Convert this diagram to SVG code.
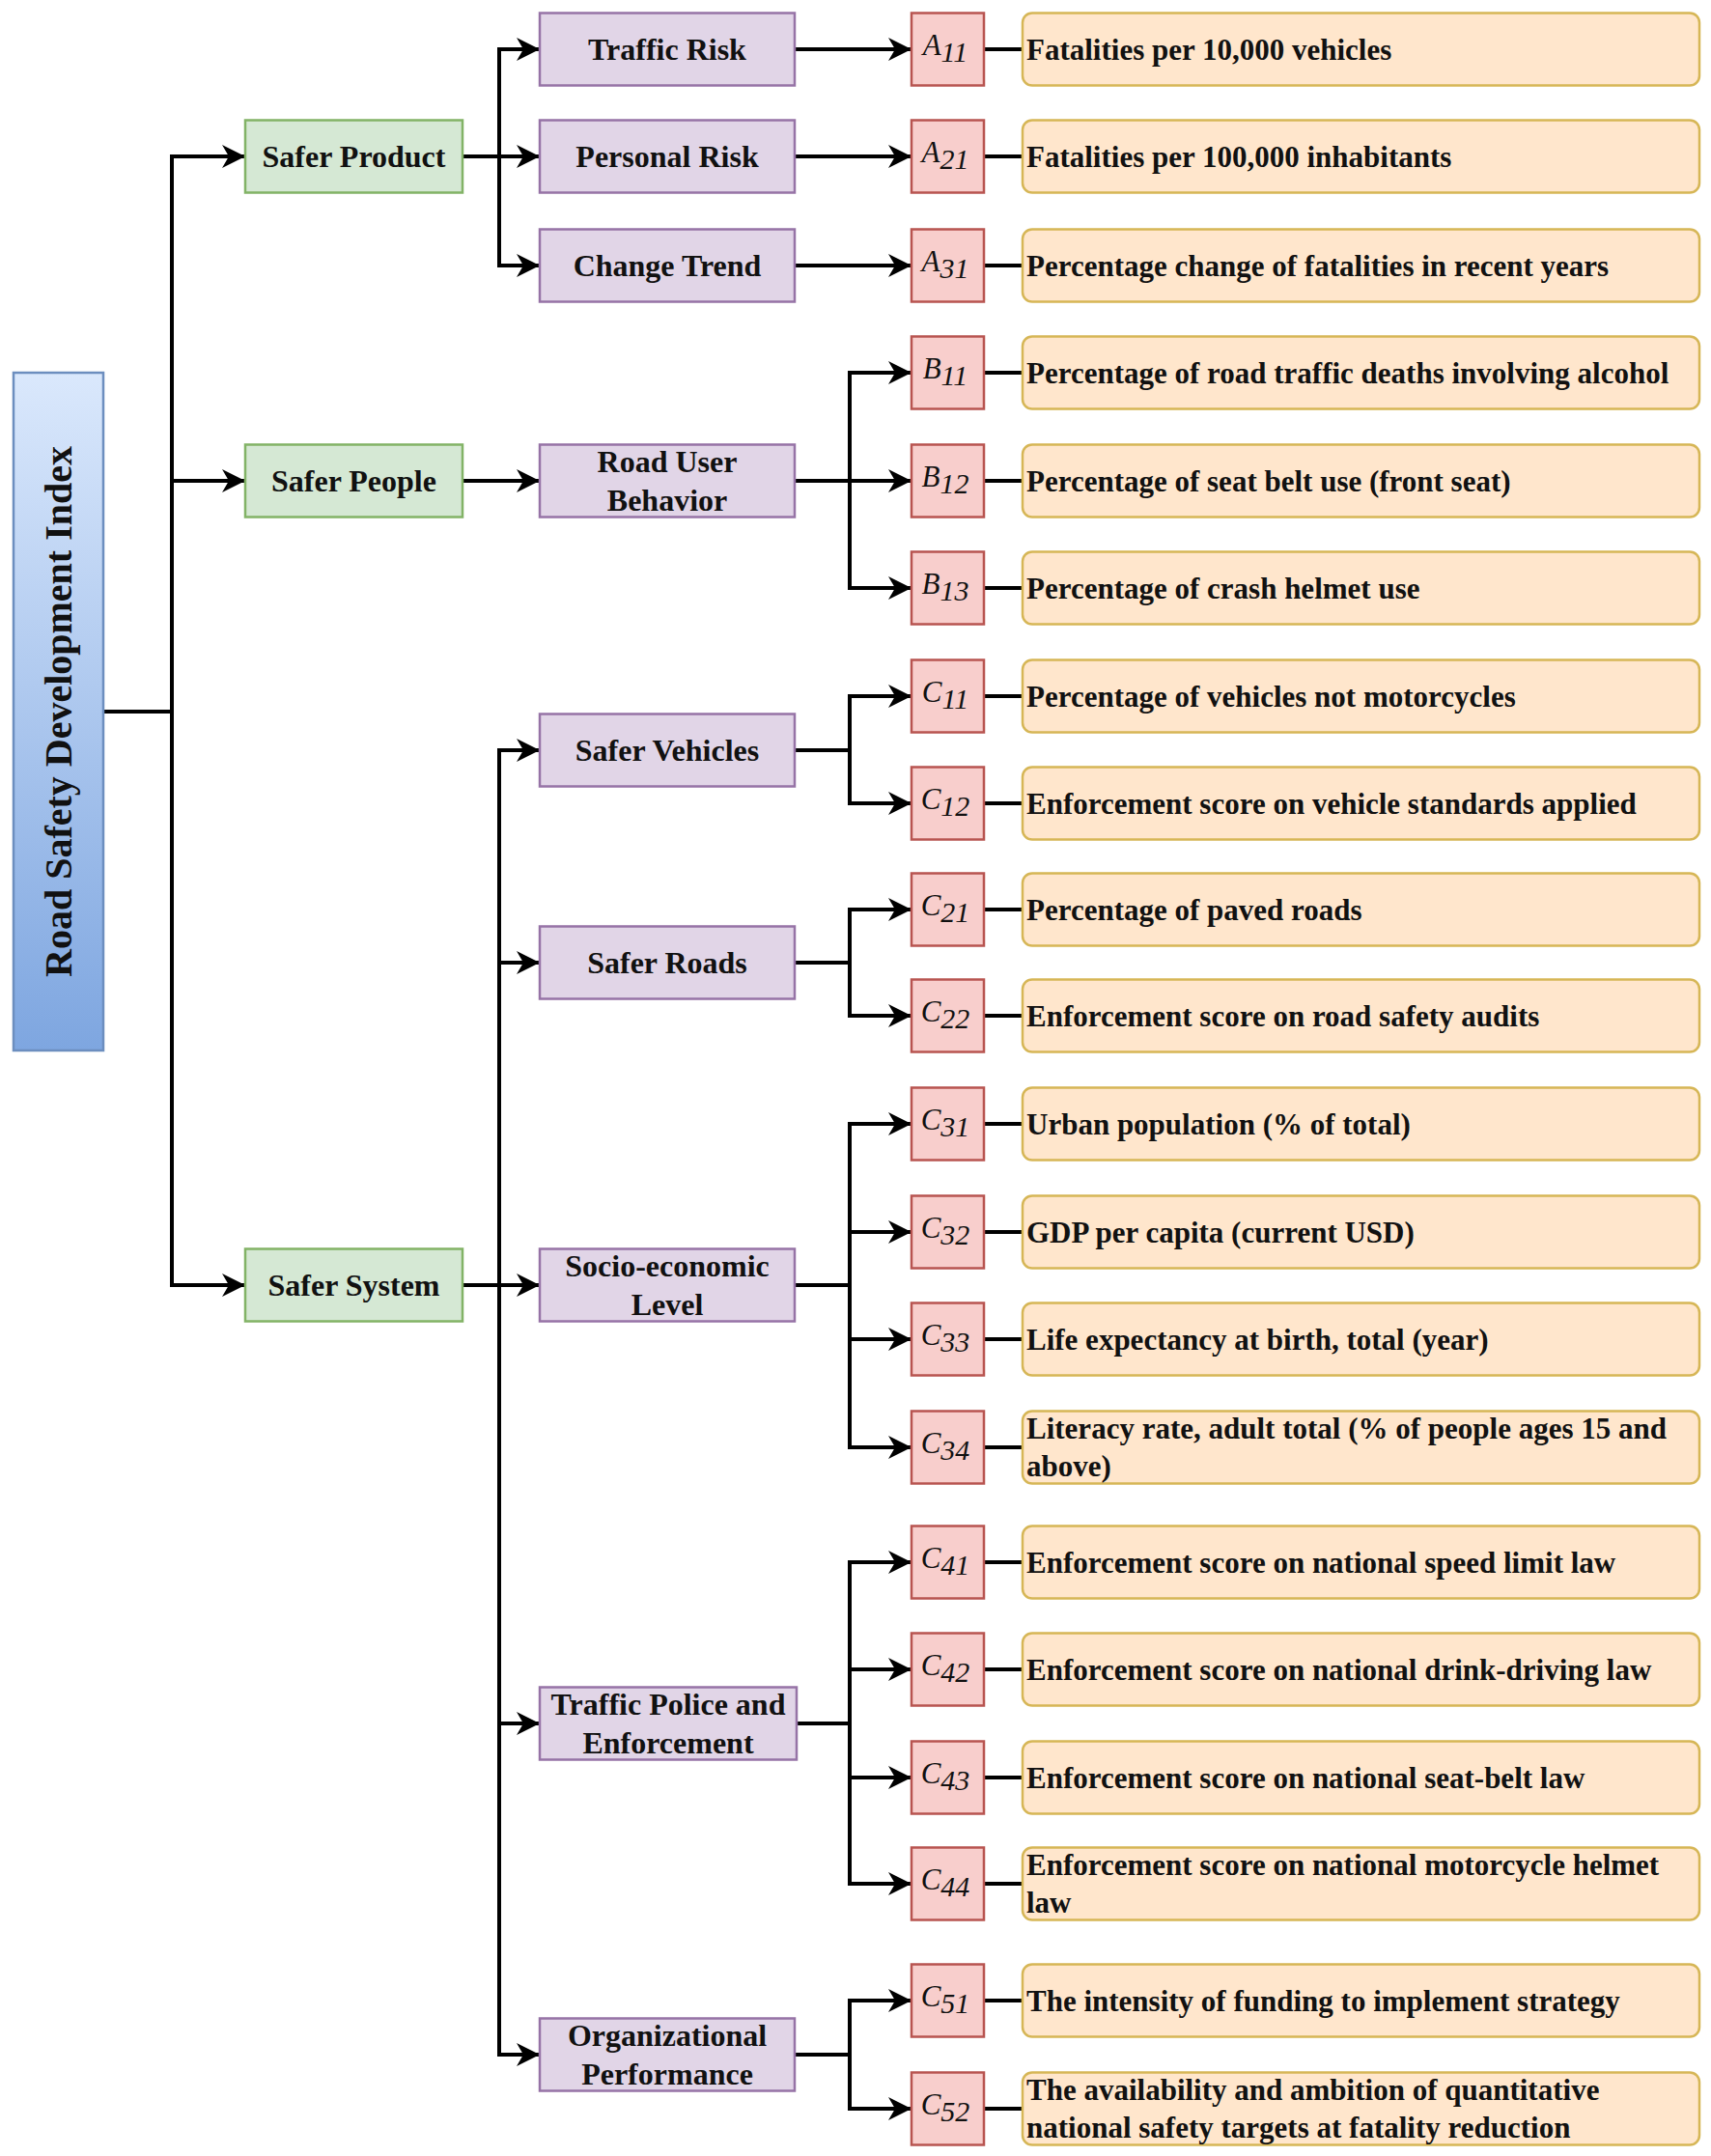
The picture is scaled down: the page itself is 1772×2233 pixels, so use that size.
<svg xmlns="http://www.w3.org/2000/svg" width="1772" height="2233" viewBox="0 0 1772 2233">
<defs>
<linearGradient id="rootGrad" x1="0" y1="0" x2="0" y2="1">
<stop offset="0" stop-color="#dae8fc"/>
<stop offset="1" stop-color="#7ea6e0"/>
</linearGradient>
<marker id="arr" markerUnits="userSpaceOnUse" markerWidth="24" markerHeight="24" refX="24" refY="12" orient="auto">
<path d="M0,0 L24,12 L0,24 L7,12 z" fill="#000"/>
</marker>
<style>
.root{fill:url(#rootGrad);stroke:#6c8ebf;stroke-width:2.5}
.l1{fill:#d5e8d4;stroke:#82b366;stroke-width:2.5}
.l2{fill:#e1d5e7;stroke:#9673a6;stroke-width:2.5}
.ind{fill:#f8cecc;stroke:#b85450;stroke-width:2.5}
.desc{fill:#ffe6cc;stroke:#d6b656;stroke-width:2.5}
.t{font-family:"Liberation Serif","Times New Roman",serif;font-weight:bold;fill:#111}
.tb{font-size:32px;text-anchor:middle}
.td{font-size:31px}
.tr{font-size:40px;text-anchor:middle}
.lbl{font-family:"Liberation Serif","Times New Roman",serif;font-style:italic;font-size:31px;fill:#111;text-anchor:middle}
.sub{font-size:30px}
.c{fill:none;stroke:#000;stroke-width:4}
.v{fill:none;stroke:#000;stroke-width:4;stroke-linecap:square}
.a{fill:none;stroke:#000;stroke-width:4;marker-end:url(#arr)}
</style>
</defs>
<rect width="1772" height="2233" fill="#fff"/>

<g id="connectors">
<path class="c" d="M107,737 H178"/>
<path class="v" d="M178,162 V1331"/>
<path class="a" d="M178,162 H254"/>
<path class="a" d="M178,498 H254"/>
<path class="a" d="M178,1331 H254"/>

<path class="c" d="M479,162 H517"/>
<path class="v" d="M517,51 V275"/>
<path class="a" d="M517,51 H559"/>
<path class="a" d="M517,162 H559"/>
<path class="a" d="M517,275 H559"/>

<path class="a" d="M479,498 H559"/>

<path class="c" d="M479,1331 H517"/>
<path class="v" d="M517,777 V2128"/>
<path class="a" d="M517,777 H559"/>
<path class="a" d="M517,997 H559"/>
<path class="a" d="M517,1331 H559"/>
<path class="a" d="M517,1785 H559"/>
<path class="a" d="M517,2128 H559"/>

<path class="a" d="M823,51 H944"/>
<path class="a" d="M823,162 H944"/>
<path class="a" d="M823,275 H944"/>

<path class="c" d="M823,498 H880"/>
<path class="v" d="M880,386 V609"/>
<path class="a" d="M880,386 H944"/>
<path class="a" d="M880,498 H944"/>
<path class="a" d="M880,609 H944"/>

<path class="c" d="M823,777 H880"/>
<path class="v" d="M880,721 V832"/>
<path class="a" d="M880,721 H944"/>
<path class="a" d="M880,832 H944"/>

<path class="c" d="M823,997 H880"/>
<path class="v" d="M880,942 V1052"/>
<path class="a" d="M880,942 H944"/>
<path class="a" d="M880,1052 H944"/>

<path class="c" d="M823,1331 H880"/>
<path class="v" d="M880,1164 V1499"/>
<path class="a" d="M880,1164 H944"/>
<path class="a" d="M880,1276 H944"/>
<path class="a" d="M880,1387 H944"/>
<path class="a" d="M880,1499 H944"/>

<path class="c" d="M825,1785 H880"/>
<path class="v" d="M880,1618 V1951"/>
<path class="a" d="M880,1618 H944"/>
<path class="a" d="M880,1729 H944"/>
<path class="a" d="M880,1841 H944"/>
<path class="a" d="M880,1951 H944"/>

<path class="c" d="M823,2128 H880"/>
<path class="v" d="M880,2072 V2184"/>
<path class="a" d="M880,2072 H944"/>
<path class="a" d="M880,2184 H944"/>

<path class="c" d="M1019,51 H1059 M1019,162 H1059 M1019,275 H1059 M1019,386 H1059 M1019,498 H1059 M1019,609 H1059 M1019,721 H1059 M1019,832 H1059 M1019,942 H1059 M1019,1052 H1059 M1019,1164 H1059 M1019,1276 H1059 M1019,1387 H1059 M1019,1499 H1059 M1019,1618 H1059 M1019,1729 H1059 M1019,1841 H1059 M1019,1951 H1059 M1019,2072 H1059 M1019,2184 H1059"/>
</g>

<g id="root">
<rect class="root" x="14" y="386" width="93" height="702"/>
<text class="t tr" transform="translate(74,737) rotate(-90)">Road Safety Development Index</text>
</g>

<g id="safer-product"><rect class="l1" x="254" y="124.5" width="225" height="75"/><text class="t tb" x="366.5" y="173">Safer Product</text></g>
<g id="safer-people"><rect class="l1" x="254" y="460.5" width="225" height="75"/><text class="t tb" x="366.5" y="509">Safer People</text></g>
<g id="safer-system"><rect class="l1" x="254" y="1293.5" width="225" height="75"/><text class="t tb" x="366.5" y="1342">Safer System</text></g>

<g id="traffic-risk"><rect class="l2" x="559" y="13.5" width="264" height="75"/><text class="t tb" x="691" y="62">Traffic Risk</text></g>
<g id="personal-risk"><rect class="l2" x="559" y="124.5" width="264" height="75"/><text class="t tb" x="691" y="173">Personal Risk</text></g>
<g id="change-trend"><rect class="l2" x="559" y="237.5" width="264" height="75"/><text class="t tb" x="691" y="286">Change Trend</text></g>
<g id="road-user-behavior"><rect class="l2" x="559" y="460.5" width="264" height="75"/><text class="t tb" x="691" y="489">Road User</text><text class="t tb" x="691" y="529">Behavior</text></g>
<g id="safer-vehicles"><rect class="l2" x="559" y="739.5" width="264" height="75"/><text class="t tb" x="691" y="788">Safer Vehicles</text></g>
<g id="safer-roads"><rect class="l2" x="559" y="959.5" width="264" height="75"/><text class="t tb" x="691" y="1008">Safer Roads</text></g>
<g id="socio-economic-level"><rect class="l2" x="559" y="1293.5" width="264" height="75"/><text class="t tb" x="691" y="1322">Socio-economic</text><text class="t tb" x="691" y="1362">Level</text></g>
<g id="traffic-police"><rect class="l2" x="559" y="1747.5" width="266" height="75"/><text class="t tb" x="692" y="1776">Traffic Police and</text><text class="t tb" x="692" y="1816">Enforcement</text></g>
<g id="organizational-performance"><rect class="l2" x="559" y="2090.5" width="264" height="75"/><text class="t tb" x="691" y="2119">Organizational</text><text class="t tb" x="691" y="2159">Performance</text></g>

<g id="A11"><rect class="ind" x="944" y="13.5" width="75" height="75"/><text class="lbl" x="979" y="57">A<tspan class="sub" dy="7">11</tspan></text></g>
<g id="A21"><rect class="ind" x="944" y="124.5" width="75" height="75"/><text class="lbl" x="979" y="168">A<tspan class="sub" dy="7">21</tspan></text></g>
<g id="A31"><rect class="ind" x="944" y="237.5" width="75" height="75"/><text class="lbl" x="979" y="281">A<tspan class="sub" dy="7">31</tspan></text></g>
<g id="B11"><rect class="ind" x="944" y="348.5" width="75" height="75"/><text class="lbl" x="979" y="392">B<tspan class="sub" dy="7">11</tspan></text></g>
<g id="B12"><rect class="ind" x="944" y="460.5" width="75" height="75"/><text class="lbl" x="979" y="504">B<tspan class="sub" dy="7">12</tspan></text></g>
<g id="B13"><rect class="ind" x="944" y="571.5" width="75" height="75"/><text class="lbl" x="979" y="615">B<tspan class="sub" dy="7">13</tspan></text></g>
<g id="C11"><rect class="ind" x="944" y="683.5" width="75" height="75"/><text class="lbl" x="979" y="727">C<tspan class="sub" dy="7">11</tspan></text></g>
<g id="C12"><rect class="ind" x="944" y="794.5" width="75" height="75"/><text class="lbl" x="979" y="838">C<tspan class="sub" dy="7">12</tspan></text></g>
<g id="C21"><rect class="ind" x="944" y="904.5" width="75" height="75"/><text class="lbl" x="979" y="948">C<tspan class="sub" dy="7">21</tspan></text></g>
<g id="C22"><rect class="ind" x="944" y="1014.5" width="75" height="75"/><text class="lbl" x="979" y="1058">C<tspan class="sub" dy="7">22</tspan></text></g>
<g id="C31"><rect class="ind" x="944" y="1126.5" width="75" height="75"/><text class="lbl" x="979" y="1170">C<tspan class="sub" dy="7">31</tspan></text></g>
<g id="C32"><rect class="ind" x="944" y="1238.5" width="75" height="75"/><text class="lbl" x="979" y="1282">C<tspan class="sub" dy="7">32</tspan></text></g>
<g id="C33"><rect class="ind" x="944" y="1349.5" width="75" height="75"/><text class="lbl" x="979" y="1393">C<tspan class="sub" dy="7">33</tspan></text></g>
<g id="C34"><rect class="ind" x="944" y="1461.5" width="75" height="75"/><text class="lbl" x="979" y="1505">C<tspan class="sub" dy="7">34</tspan></text></g>
<g id="C41"><rect class="ind" x="944" y="1580.5" width="75" height="75"/><text class="lbl" x="979" y="1624">C<tspan class="sub" dy="7">41</tspan></text></g>
<g id="C42"><rect class="ind" x="944" y="1691.5" width="75" height="75"/><text class="lbl" x="979" y="1735">C<tspan class="sub" dy="7">42</tspan></text></g>
<g id="C43"><rect class="ind" x="944" y="1803.5" width="75" height="75"/><text class="lbl" x="979" y="1847">C<tspan class="sub" dy="7">43</tspan></text></g>
<g id="C44"><rect class="ind" x="944" y="1913.5" width="75" height="75"/><text class="lbl" x="979" y="1957">C<tspan class="sub" dy="7">44</tspan></text></g>
<g id="C51"><rect class="ind" x="944" y="2034.5" width="75" height="75"/><text class="lbl" x="979" y="2078">C<tspan class="sub" dy="7">51</tspan></text></g>
<g id="C52"><rect class="ind" x="944" y="2146.5" width="75" height="75"/><text class="lbl" x="979" y="2190">C<tspan class="sub" dy="7">52</tspan></text></g>

<g id="d-A11"><rect class="desc" x="1059" y="13.5" width="701" height="75" rx="10"/><text class="t td" x="1063" y="62">Fatalities per 10,000 vehicles</text></g>
<g id="d-A21"><rect class="desc" x="1059" y="124.5" width="701" height="75" rx="10"/><text class="t td" x="1063" y="173">Fatalities per 100,000 inhabitants</text></g>
<g id="d-A31"><rect class="desc" x="1059" y="237.5" width="701" height="75" rx="10"/><text class="t td" x="1063" y="286">Percentage change of fatalities in recent years</text></g>
<g id="d-B11"><rect class="desc" x="1059" y="348.5" width="701" height="75" rx="10"/><text class="t td" x="1063" y="397">Percentage of road traffic deaths involving alcohol</text></g>
<g id="d-B12"><rect class="desc" x="1059" y="460.5" width="701" height="75" rx="10"/><text class="t td" x="1063" y="509">Percentage of seat belt use (front seat)</text></g>
<g id="d-B13"><rect class="desc" x="1059" y="571.5" width="701" height="75" rx="10"/><text class="t td" x="1063" y="620">Percentage of crash helmet use</text></g>
<g id="d-C11"><rect class="desc" x="1059" y="683.5" width="701" height="75" rx="10"/><text class="t td" x="1063" y="732">Percentage of vehicles not motorcycles</text></g>
<g id="d-C12"><rect class="desc" x="1059" y="794.5" width="701" height="75" rx="10"/><text class="t td" x="1063" y="843">Enforcement score on vehicle standards applied</text></g>
<g id="d-C21"><rect class="desc" x="1059" y="904.5" width="701" height="75" rx="10"/><text class="t td" x="1063" y="953">Percentage of paved roads</text></g>
<g id="d-C22"><rect class="desc" x="1059" y="1014.5" width="701" height="75" rx="10"/><text class="t td" x="1063" y="1063">Enforcement score on road safety audits</text></g>
<g id="d-C31"><rect class="desc" x="1059" y="1126.5" width="701" height="75" rx="10"/><text class="t td" x="1063" y="1175">Urban population (% of total)</text></g>
<g id="d-C32"><rect class="desc" x="1059" y="1238.5" width="701" height="75" rx="10"/><text class="t td" x="1063" y="1287">GDP per capita (current USD)</text></g>
<g id="d-C33"><rect class="desc" x="1059" y="1349.5" width="701" height="75" rx="10"/><text class="t td" x="1063" y="1398">Life expectancy at birth, total (year)</text></g>
<g id="d-C34"><rect class="desc" x="1059" y="1461.5" width="701" height="75" rx="10"/><text class="t td" x="1063" y="1490">Literacy rate, adult total (% of people ages 15 and</text><text class="t td" x="1063" y="1529">above)</text></g>
<g id="d-C41"><rect class="desc" x="1059" y="1580.5" width="701" height="75" rx="10"/><text class="t td" x="1063" y="1629">Enforcement score on national speed limit law</text></g>
<g id="d-C42"><rect class="desc" x="1059" y="1691.5" width="701" height="75" rx="10"/><text class="t td" x="1063" y="1740">Enforcement score on national drink-driving law</text></g>
<g id="d-C43"><rect class="desc" x="1059" y="1803.5" width="701" height="75" rx="10"/><text class="t td" x="1063" y="1852">Enforcement score on national seat-belt law</text></g>
<g id="d-C44"><rect class="desc" x="1059" y="1913.5" width="701" height="75" rx="10"/><text class="t td" x="1063" y="1942">Enforcement score on national motorcycle helmet</text><text class="t td" x="1063" y="1981">law</text></g>
<g id="d-C51"><rect class="desc" x="1059" y="2034.5" width="701" height="75" rx="10"/><text class="t td" x="1063" y="2083">The intensity of funding to implement strategy</text></g>
<g id="d-C52"><rect class="desc" x="1059" y="2146.5" width="701" height="75" rx="10"/><text class="t td" x="1063" y="2175">The availability and ambition of quantitative</text><text class="t td" x="1063" y="2214">national safety targets at fatality reduction</text></g>
</svg>
